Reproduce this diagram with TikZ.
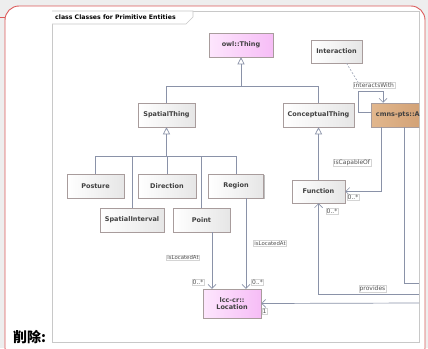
\documentclass[tikz,border=0pt]{standalone}
\usepackage{fontspec}
\setmainfont{DejaVu Sans}
\newfontfamily\cjkfont{Noto Sans CJK SC}
\usetikzlibrary{arrows.meta,shadows}

\definecolor{outerbg}{HTML}{EEEEEE}
\definecolor{noteline}{HTML}{DC5A5A}
\definecolor{framecol}{HTML}{C8C8C8}
\definecolor{boxline}{HTML}{A89C9C}
\definecolor{boxgray}{HTML}{E6E6E6}
\definecolor{boxtext}{HTML}{404040}
\definecolor{pinkl}{HTML}{FDE6FD}
\definecolor{pinkr}{HTML}{F6BDF6}
\definecolor{tanl}{HTML}{E2B78D}
\definecolor{tanr}{HTML}{CC996C}
\definecolor{conn}{HTML}{8A92A8}
\definecolor{lblline}{HTML}{D4D4D4}
\definecolor{lbltext}{HTML}{505050}

\tikzset{
  cls/.style={draw=boxline, line width=0.5pt, left color=white, right color=boxgray,
    font=\bfseries\fontsize{6.5}{7.5}\selectfont, text=boxtext, inner sep=0pt,
    drop shadow={shadow xshift=1.4pt, shadow yshift=-1.4pt, opacity=0.25, fill=black}},
  pinkbox/.style={left color=pinkl, right color=pinkr},
  tanbox/.style={left color=tanl, right color=tanr},
  wire/.style={draw=conn, line width=0.7pt},
  gen/.style={wire, -{Triangle[open, length=7pt, width=7pt, fill=white]}},
  assoc/.style={wire, -{Straight Barb[length=4pt, width=8pt]}},
  lbl/.style={fill=white, draw=lblline, line width=0.3pt, inner sep=0.7pt,
    font=\fontsize{6}{7}\selectfont, text=lbltext},
  smalllbl/.style={lbl, font=\fontsize{5.4}{6.4}\selectfont}
}

\begin{document}
\begin{tikzpicture}[x=1pt, y=-1pt]
\useasboundingbox (0,0) rectangle (428,348);
\fill[outerbg] (0,0) rectangle (428,348);

% note outline
\begin{scope}
  \clip (0,0) rectangle (428,348);
  \filldraw[fill=white, draw=noteline, line width=0.9pt, rounded corners=14pt]
    (5,6) rectangle (425,362);
\end{scope}
\draw[noteline, line width=0.7pt] (0,17) -- (5,17);

% diagram frame and its tab
\draw[framecol, fill=white, line width=0.6pt] (52,11) rectangle (419,342);
\draw[framecol, fill=white, line width=0.6pt] (52,11) -- (193,11) -- (193,17) -- (186,24) -- (52,24);
\node[anchor=west, inner sep=0pt, font=\bfseries\fontsize{6.2}{7}\selectfont] (title) at (55,17.5)
  {class Classes for Primitive Entities};

\node[anchor=base west, inner sep=0pt, font=\cjkfont\bfseries\fontsize{14}{16}\selectfont] (del) at (13,342) {削除:};

\begin{scope}
\clip (52,11) rectangle (419,342);

% classes
\node[cls, pinkbox, minimum width=64pt, minimum height=24pt] (owl) at (241,45) {owl::Thing};
\node[cls, minimum width=51pt, minimum height=23pt] (interaction) at (336.5,51.5) {Interaction};
\node[cls, minimum width=57pt, minimum height=24pt] (spatial) at (166.5,115) {SpatialThing};
\node[cls, minimum width=71pt, minimum height=24pt] (conceptual) at (318.5,115) {ConceptualThing};
\node[cls, tanbox, minimum width=70pt, minimum height=24pt] (agent) at (406,115) {};
\node[anchor=west, inner sep=0pt, font=\bfseries\fontsize{6.5}{7.5}\selectfont, text=boxtext]
  (agentname) at ([xshift=5pt]agent.west) {cmns-pts::A};
\node[cls, minimum width=57pt, minimum height=24pt] (posture) at (95.5,186) {Posture};
\node[cls, minimum width=58pt, minimum height=24pt] (direction) at (167,186) {Direction};
\node[cls, minimum width=55pt, minimum height=24pt] (region) at (236,186) {Region};
\node[cls, minimum width=64pt, minimum height=24pt] (spint) at (132,220) {SpatialInterval};
\node[cls, minimum width=57pt, minimum height=24pt] (point) at (201.5,220) {Point};
\node[cls, minimum width=53pt, minimum height=23pt] (function) at (318.5,191.5) {Function};
\node[cls, pinkbox, minimum width=58pt, minimum height=29pt, align=center] (location) at (232,303.5)
  {lcc-cr::\\Location};

% generalisations
\coordinate (topjoin) at (241,86);
\draw[wire] (spatial.north) |- (topjoin);
\draw[wire] (conceptual.north) |- (topjoin);
\draw[gen] (topjoin) -- (owl.south);

\coordinate (subjoin) at (166.5,156);
\foreach \n in {posture, spint, direction, point, region}
  \draw[wire] (\n.north) |- (subjoin);
\draw[gen] (subjoin) -- (spatial.south);

\draw[gen] (function.north) -- (conceptual.south);

% associations
\draw[assoc] ([xshift=11pt]agent.south west) |- (function.east);
\coordinate (provend) at (419,294);
\draw[assoc] (provend) -| (function.south);
\coordinate (agentdown) at (419,283);
\draw[wire] ([xshift=34pt]agent.south west) |- (agentdown);
\coordinate (locend) at (419,303);
\draw[assoc] (locend) -- (location.east);

\coordinate (ptfoot) at ([xshift=10.5pt]point.south);
\draw[assoc] (ptfoot) -- (ptfoot |- location.north);
\coordinate (rgfoot) at ([xshift=10pt]region.south);
\draw[assoc] (rgfoot) -- (rgfoot |- location.north);

\coordinate (loopa) at (358,91);
\coordinate (loopb) at (383,91);
\draw[assoc] ([yshift=3pt]agent.west) -| (loopa) -- (loopb) -- (loopb |- agent.north);

% role names and multiplicities
\node[lbl] (iw) at (374,85.5) {interactsWith};
\draw[draw=conn!80, line width=0.6pt, dash pattern=on 2pt off 1.5pt]
  ([xshift=10pt]interaction.south) -- ([xshift=5pt]iw.north west);
\node[lbl] (capable) at (352,163) {isCapableOf};
\node[lbl] (capmult) at (353,197.5) {0..*};
\node[lbl] (prov) at (372.5,288.5) {provides};
\node[lbl] (provmult) at (332,211.5) {0..*};
\node[lbl] (locmult) at (264.5,311.5) {1};
\node[smalllbl] (ptrole) at (183,257.5) {isLocatedAt};
\node[lbl] (ptmult) at (198,282.5) {0..*};
\node[smalllbl] (rgrole) at (270,243) {isLocatedAt};
\node[lbl] (rgmult) at (257.5,282.5) {0..*};
\end{scope}
\end{tikzpicture}
\end{document}
